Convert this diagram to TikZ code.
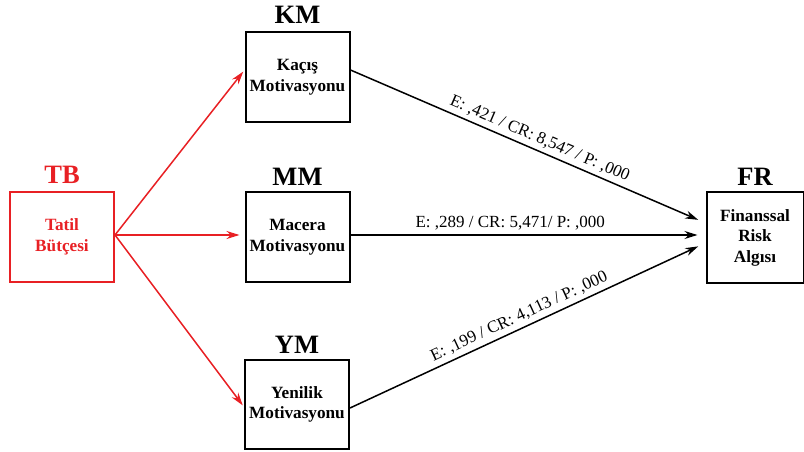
\documentclass[tikz,border=0pt]{standalone}
\usepackage{fontspec}
\setmainfont{Liberation Serif}
\usetikzlibrary{arrows.meta}
\definecolor{tbred}{RGB}{232,32,36}
\begin{document}
\begin{tikzpicture}[x=1pt,y=1pt,
  box/.style={draw, line width=2pt, minimum width=104pt, minimum height=90pt,
    align=center, inner sep=0pt, font=\bfseries\fontsize{17.2}{20.5}\selectfont},
  title/.style={font=\bfseries\fontsize{26.5}{30}\selectfont, inner sep=0pt},
  link/.style={line width=1.5pt, -{Stealth[length=13pt,width=8pt]}},
  stat/.style={font=\fontsize{17}{19}\selectfont, sloped, above, inner sep=0pt, yshift=4pt}]
\useasboundingbox (0,0) rectangle (804,451);

% boxes
\node[box, draw=tbred, text=tbred] (TB) at (62,214) {Tatil\\Bütçesi};
\node[box] (KM) at (297.5,374) {Kaçış\\Motivasyonu};
\node[box] (MM) at (297.5,214) {Macera\\Motivasyonu};
\node[box, minimum height=89pt] (YM) at (297,46.5) {Yenilik\\Motivasyonu};
\node[box, minimum width=97pt, minimum height=91pt] (FR) at (755,213.5) {Finanssal\\Risk\\Algısı};

% titles
\node[title, text=tbred] (TBt) at (62,276) {TB};
\node[title] (KMt) at (297.5,436) {KM};
\node[title] (MMt) at (297.5,274) {MM};
\node[title] (YMt) at (297,106) {YM};
\node[title] (FRt) at (755,274) {FR};

% paths from the budget
\draw[link, tbred, shorten >=2pt] ([yshift=2pt]TB.east) -- ([yshift=7pt]KM.west);
\draw[link, tbred, shorten >=5pt] ([yshift=2pt]TB.east) -- ([yshift=2pt]MM.west);
\draw[link, tbred, shorten >=2pt] ([yshift=2pt]TB.east) -- ([yshift=-2.5pt]YM.west);

% paths to financial risk
\draw[link, shorten >=8pt] ([yshift=7pt]KM.east) -- ([yshift=14.5pt]FR.west)
  node[stat, pos=0.52] {E: ,421 / CR: 8,547 / P: ,000};
\draw[link, shorten >=8pt] ([yshift=2pt]MM.east) -- ([yshift=2.5pt]FR.west)
  node[stat, pos=0.45] {E: ,289 / CR: 5,471/ P: ,000};
\draw[link, shorten >=8pt] ([yshift=-3.5pt]YM.east) -- ([yshift=-5.5pt]FR.west)
  node[stat, pos=0.49] {E: ,199 / CR: 4,113 / P: ,000};
\end{tikzpicture}
\end{document}
